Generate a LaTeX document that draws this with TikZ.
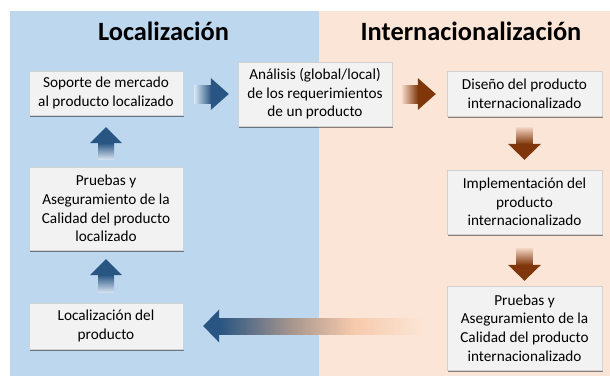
\documentclass[tikz,border=0pt]{standalone}
\usepackage{fontspec}
\setmainfont{Carlito}
\usetikzlibrary{shadows,calc}
\definecolor{bgblue}{RGB}{189,215,238}
\definecolor{bgpeach}{RGB}{251,229,214}
\definecolor{boxfill}{RGB}{242,242,242}
\definecolor{dblue}{RGB}{40,85,130}
\definecolor{pblue}{RGB}{218,230,243}
\definecolor{dbrown}{RGB}{126,54,10}
\definecolor{pbrown}{RGB}{243,212,194}
\definecolor{graybrown}{RGB}{168,150,142}
\definecolor{peachmid}{RGB}{246,202,172}
\pgfdeclarehorizontalshading{longarrow}{100bp}{color(0bp)=(dblue); color(25bp)=(dblue); color(43bp)=(graybrown); color(58bp)=(peachmid); color(75bp)=(bgpeach); color(100bp)=(bgpeach)}

% right-pointing block arrow: tail, tip, dark, pale
\newcommand\arrR[4]{%
  \path[left color=#4, right color=#3] let \p1=#1, \p2=#2 in (\x1,\y1-9bp) rectangle (\x2-17.6bp,\y1+9bp);
  \path[fill=#3] let \p1=#1, \p2=#2 in (\x2-18bp,\y1-16bp) -- (\x2,\y1) -- (\x2-18bp,\y1+16bp) -- cycle;}
% down-pointing block arrow
\newcommand\arrD[4]{%
  \path[top color=#4, bottom color=#3] let \p1=#1, \p2=#2 in (\x1-8bp,\y1) rectangle (\x1+8bp,\y2+15.6bp);
  \path[fill=#3] let \p1=#1, \p2=#2 in (\x1-16.5bp,\y2+16bp) -- (\x1,\y2) -- (\x1+16.5bp,\y2+16bp) -- cycle;}
% up-pointing block arrow
\newcommand\arrU[4]{%
  \path[bottom color=#4, top color=#3] let \p1=#1, \p2=#2 in (\x1-8bp,\y1) rectangle (\x1+8bp,\y2-15.6bp);
  \path[fill=#3] let \p1=#1, \p2=#2 in (\x1-16bp,\y2-16bp) -- (\x1,\y2) -- (\x1+16bp,\y2-16bp) -- cycle;}

\begin{document}
\begin{tikzpicture}[x=1bp,y=-1bp,
  stepbox/.style={draw=black!18, line width=0.4bp, fill=boxfill, inner sep=0pt, align=center,
    font=\fontsize{15.3}{18.6}\selectfont,
    drop shadow={shadow xshift=1.3bp, shadow yshift=-1.6bp, opacity=0.45, fill=black}},
  ttl/.style={font=\fontsize{26.5}{30}\selectfont\bfseries, anchor=base, inner sep=0pt}]
\useasboundingbox (0,0) rectangle (610,376);
\fill[white] (0,0) rectangle (610,376);
\fill[bgblue] (10,11) rectangle (319,376);
\fill[bgpeach] (319,11) rectangle (610,376);

\node[ttl] (tloc) at (163.5,40) {Localización};
\node[ttl] (tint) at (471,40) {Internacionalización};

\node[stepbox, minimum width=154bp, minimum height=44bp] (sop) at (106,93) {Soporte de mercado\\al producto localizado};
\node[stepbox, minimum width=154bp, minimum height=64bp] (ana) at (315,94) {Análisis (global/local)\\de los requerimientos\\de un producto};
\node[stepbox, minimum width=155bp, minimum height=45bp] (dis) at (524.5,93.5) {Diseño del producto\\internacionalizado};
\node[stepbox, minimum width=155bp, minimum height=64bp] (imp) at (524.5,202) {Implementación del\\producto\\internacionalizado};
\node[stepbox, minimum width=155bp, minimum height=84bp] (pri) at (524.5,328) {Pruebas y\\Aseguramiento de la\\Calidad del producto\\internacionalizado};
\node[stepbox, minimum width=154bp, minimum height=83bp] (prl) at (106,208.5) {Pruebas y\\Aseguramiento de la\\Calidad del producto\\localizado};
\node[stepbox, minimum width=154bp, minimum height=46bp] (loc) at (106,326) {Localización del\\producto};

\arrR{($(sop.east)+(11,1)$)}{($(ana.west)+(-9,0)$)}{dblue}{pblue}
\arrR{($(ana.east)+(10,0)$)}{($(dis.west)+(-11,0.5)$)}{dbrown}{pbrown}
\arrD{($(dis.south)+(0,11)$)}{($(imp.north)+(0,-10)$)}{dbrown}{pbrown}
\arrD{($(imp.south)+(0,14)$)}{($(pri.north)+(0,-5)$)}{dbrown}{pbrown}
\arrU{($(prl.north)+(0,-7)$)}{($(sop.south)+(0,12)$)}{dblue}{pblue}
\arrU{($(loc.north)+(0,-10)$)}{($(prl.south)+(0,9)$)}{dblue}{pblue}

\coordinate (lt) at ($(pri.west)+(-24,-2)$);
\coordinate (lh) at ($(loc.east)+(20,0)$);
\path[shading=longarrow] let \p1=(lt), \p2=(lh) in (\x2+15.6bp,\y1-8bp) rectangle (\x1,\y1+8bp);
\path[fill=dblue] let \p1=(lt), \p2=(lh) in (\x2+16bp,\y1-16.5bp) -- (\x2,\y1) -- (\x2+16bp,\y1+16.5bp) -- cycle;
\end{tikzpicture}
\end{document}
